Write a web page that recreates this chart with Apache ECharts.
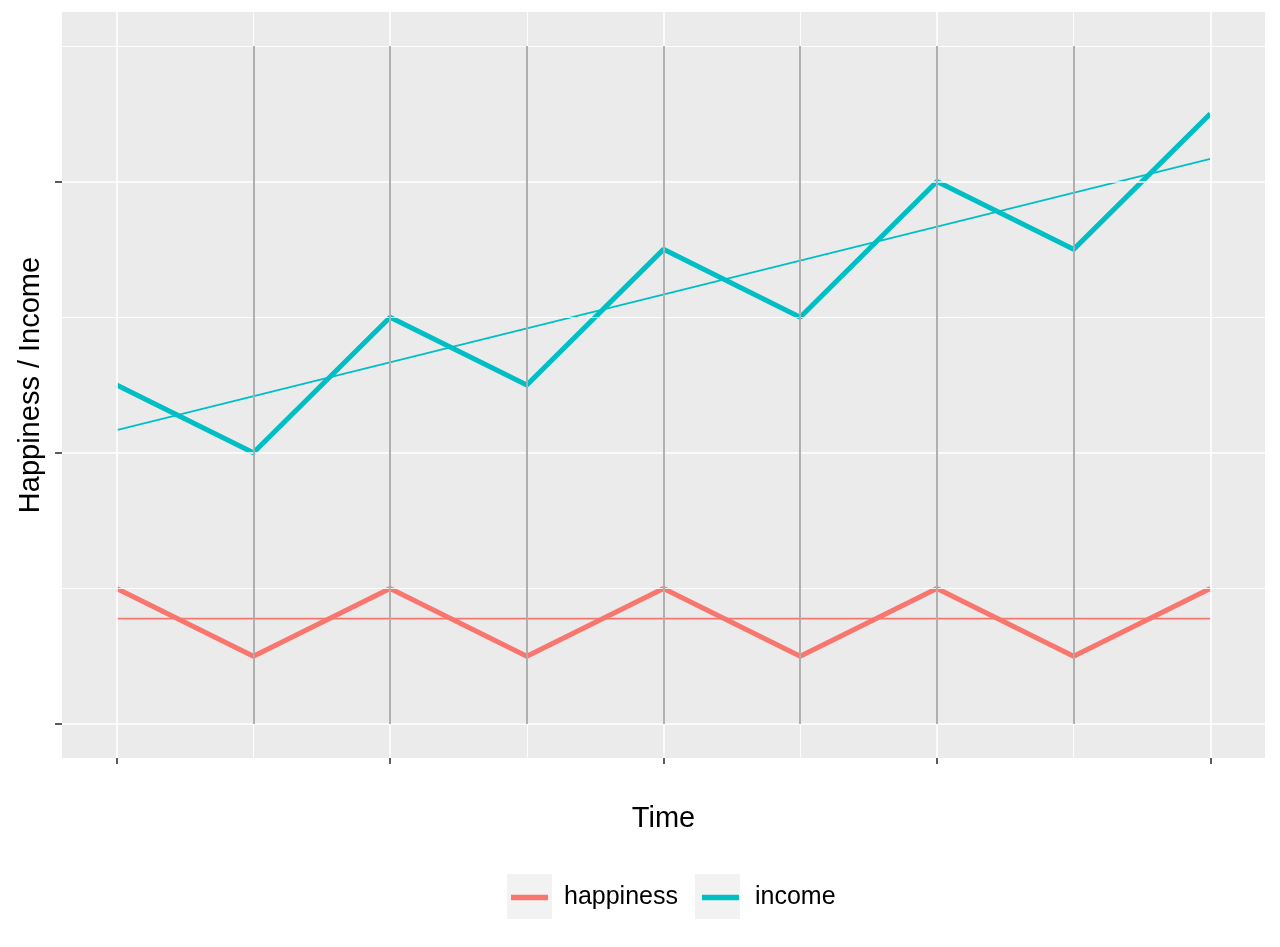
<!DOCTYPE html>
<html>
<head>
<meta charset="utf-8">
<script src="https://cdn.jsdelivr.net/npm/echarts@6/dist/echarts.min.js"></script>
<style>html,body{margin:0;padding:0;background:#fff}#c{width:1280px;height:947px}</style>
</head>
<body>
<div id="c"></div>
<script>
// ---- data ----
const xValues = [1, 2, 3, 4, 5, 6, 7, 8, 9];
const happiness = [1, 0.5, 1, 0.5, 1, 0.5, 1, 0.5, 1];
const income = [2.5, 2, 3, 2.5, 3.5, 3, 4, 3.5, 4.5];
const trendX = [1, 9];
const happinessTrend = [0.778, 0.778];
const incomeTrend = [2.167, 4.167];
const segmentX = [2, 3, 4, 5, 6, 7, 8];
const segmentRange = [0, 5];
const xMajorTicks = [1, 3, 5, 7, 9];
const xMinorTicks = [2, 4, 6, 8];
const yMajorTicks = [0, 2, 4];
const yMinorTicks = [1, 3, 5];
const seriesNames = ['happiness', 'income'];
const colors = ['#F8766D', '#00BFC4'];

const FONT = "'Liberation Sans', Arial, sans-serif";
const pair = (xs, ys) => xs.map((x, i) => [x, ys[i]]);

const gridLines = [
  ...xMajorTicks.map(v => ({ xAxis: v, lineStyle: { color: '#FFFFFF', width: 1.6, type: 'solid' } })),
  ...xMinorTicks.map(v => ({ xAxis: v, lineStyle: { color: '#FFFFFF', width: 0.9, type: 'solid' } })),
  ...yMajorTicks.map(v => ({ yAxis: v, lineStyle: { color: '#FFFFFF', width: 1.6, type: 'solid' } })),
  ...yMinorTicks.map(v => ({ yAxis: v, lineStyle: { color: '#FFFFFF', width: 0.9, type: 'solid' } }))
];
const segments = segmentX.map(x => [{ coord: [x, segmentRange[0]] }, { coord: [x, segmentRange[1]] }]);

const chart = echarts.init(document.getElementById('c'), null, { renderer: 'canvas' });
chart.setOption({
  animation: false,
  backgroundColor: '#FFFFFF',
  textStyle: { fontFamily: FONT },
  grid: { left: 62, right: 15, top: 12, bottom: 189, show: true, backgroundColor: '#EBEBEB', borderWidth: 0 },
  xAxis: {
    type: 'value', min: 0.6, max: 9.4,
    name: 'Time', nameLocation: 'middle', nameGap: 46,
    nameTextStyle: { fontSize: 29, color: '#000', fontFamily: FONT },
    axisLine: { show: false, onZero: false },
    axisLabel: { show: false },
    splitLine: { show: false },
    axisTick: { show: true, customValues: xMajorTicks, length: 6, lineStyle: { color: '#333', width: 1.6 } }
  },
  yAxis: {
    type: 'value', min: -0.25, max: 5.25,
    name: 'Happiness / Income', nameLocation: 'middle', nameGap: 17, nameRotate: 90,
    nameTextStyle: { fontSize: 29, color: '#000', fontFamily: FONT },
    axisLine: { show: false, onZero: false },
    axisLabel: { show: false },
    splitLine: { show: false },
    axisTick: { show: true, customValues: yMajorTicks, length: 7, lineStyle: { color: '#333', width: 1.6 } }
  },
  legend: {
    data: seriesNames, left: 511, top: 885, padding: 0, icon: 'rect', itemWidth: 37, itemHeight: 5.5, itemGap: 24,
    textStyle: { fontSize: 25, color: '#000', fontFamily: FONT, padding: [0, 0, 0, 11] }
  },
  graphic: [
    { type: 'rect', left: 507, top: 874, z: -1, shape: { width: 45, height: 45 }, style: { fill: '#F2F2F2' } },
    { type: 'rect', left: 695, top: 874, z: -1, shape: { width: 45, height: 45 }, style: { fill: '#F2F2F2' } }
  ],
  series: [
    { name: 'grid', type: 'line', data: [], silent: true, z: 1,
      markLine: { silent: true, symbol: ['none', 'none'], label: { show: false },
        lineStyle: { type: 'solid' }, data: gridLines, animation: false } },
    { name: 'segments', type: 'line', data: [], silent: true, z: 2,
      markLine: { silent: true, symbol: ['none', 'none'], label: { show: false },
        lineStyle: { color: '#A8A8A8', width: 1.8, type: 'solid' }, data: segments, animation: false } },
    { name: 'happiness trend', type: 'line', data: pair(trendX, happinessTrend), showSymbol: false, z: 3,
      lineStyle: { color: colors[0], width: 1.8 }, itemStyle: { color: colors[0] } },
    { name: 'income trend', type: 'line', data: pair(trendX, incomeTrend), showSymbol: false, z: 3,
      lineStyle: { color: colors[1], width: 1.8 }, itemStyle: { color: colors[1] } },
    { name: seriesNames[0], type: 'line', data: pair(xValues, happiness), showSymbol: false, z: 4,
      lineStyle: { color: colors[0], width: 5 }, itemStyle: { color: colors[0] } },
    { name: seriesNames[1], type: 'line', data: pair(xValues, income), showSymbol: false, z: 4,
      lineStyle: { color: colors[1], width: 5 }, itemStyle: { color: colors[1] } }
  ]
});
</script>
</body>
</html>
